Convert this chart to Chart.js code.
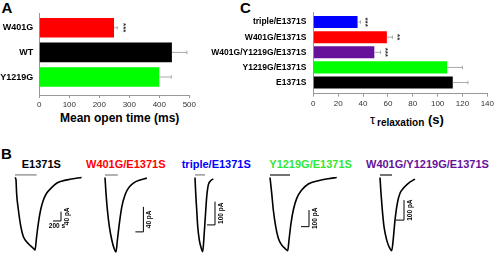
<!DOCTYPE html>
<html>
<head>
<meta charset="utf-8">
<script src="https://cdn.jsdelivr.net/npm/chart.js@4"></script>
<style>
  body { margin: 0; width: 496px; height: 254px; position: relative; overflow: hidden; background: #fff;
         font-family: Arial, "Liberation Sans", sans-serif; }
  canvas { position: absolute; }
  .t { position: absolute; font-weight: bold; line-height: 1; white-space: nowrap; }
</style>
</head>
<body>
<div class="t" style="left:1.5px;top:0;font-size:15px">A</div>
<div class="t" style="left:240px;top:0;font-size:15px">C</div>
<div class="t" style="left:1px;top:146px;font-size:15px">B</div>
<div class="t" style="left:60px;top:111.8px;font-size:12px">Mean open time (ms)</div>
<div class="t" style="left:370px;top:113px;font-size:13px;font-weight:normal">τ</div>
<div class="t" style="left:377px;top:118px;font-size:10px">relaxation</div>
<div class="t" style="left:428px;top:113px;font-size:13px">(s)</div>

<canvas id="chartA" width="200" height="112" style="left:0;top:0"></canvas>
<canvas id="chartC" width="296" height="112" style="left:200px;top:0"></canvas>

<script>
// ---- panel A: mean open time (ms)
const openLabels = ['W401G', 'WT', 'Y1219G'];
const openMean = [249, 442, 400];
const openErr = [11, 50, 40];
const openStars = ['***', '', ''];
const openTicks = [0, 100, 200, 300, 400, 500];

// ---- panel C: tau relaxation (s)
const tauLabels = ['triple/E1371S', 'W401G/E1371S', 'W401G/Y1219G/E1371S', 'Y1219G/E1371S', 'E1371S'];
const tauMean = [35.6, 59.2, 49.1, 107.7, 112.2];
const tauErr = [2.4, 4.5, 5, 12.3, 12.2];
const tauStars = ['***', '**', '***', '', ''];
const tauTicks = [0, 20, 40, 60, 80, 100, 120, 140];

// ---- panel B: current traces (time in s, current in pA)
const traceNames = ['E1371S', 'W401G/E1371S', 'triple/E1371S', 'Y1219G/E1371S', 'W401G/Y1219G/E1371S'];
const traceTime = [
  [0, 25, 40, 85, 145, 210, 335, 460, 500, 540, 585, 640, 710, 790, 915, 1040, 1165, 1375, 1665],
  [0, 25, 60, 110, 170, 225, 275, 310, 360, 420, 500, 585, 710, 875, 1045],
  [0, 18, 43, 68, 108, 150, 193, 225, 258, 293, 333, 393, 458],
  [0, 43, 83, 143, 208, 293, 375, 443, 475, 525, 583, 668, 793, 958, 1208, 1458, 1668],
  [0, 25, 58, 100, 168, 233, 293, 333, 375, 433, 500, 583, 708, 875]
];
const traceCurrent = [
  [0, -10, -68, -140, -210, -255, -285, -305, -312, -255, -195, -140, -97, -68, -44, -25, -16, -8, 0],
  [0, -25, -52, -79, -100, -113, -119, -100, -73, -47, -28, -17, -9, -4, -1],
  [0, -68, -140, -211, -269, -300, -319, -255, -169, -83, -32, -14, -6],
  [0, -95, -195, -295, -365, -405, -425, -439, -375, -275, -195, -125, -75, -39, -19, -7, 0],
  [0, -79, -163, -246, -313, -349, -366, -304, -213, -129, -79, -54, -29, -8]
];
const stimEnd = [540, 320, 250, 500, 300];      // agonist application, s
const scaleBarPA = [40, 40, 100, 100, 100];
const scaleBarS = 200;

// layout / styling
const barColorsA = ['#ff0000', '#000000', '#00ff00'];
const barColorsC = ['#0000ff', '#ff0000', '#66119a', '#00ff00', '#000000'];
const labelColors = ['#000000', '#ff0000', '#0000ff', '#33e633', '#66119a'];
const labelLeft = [21.7, 86, 181.7, 269.3, 366];
const traceLayout = [
  { left: 10,  width: 75, x: [-125, 1750], y: [-329, 32],     stimY: 11,   stimColor: '#999', bar: [1150, -187] },
  { left: 95,  width: 60, x: [-250, 1250], y: [-122.4, 12],   stimY: 4,    stimColor: '#999', bar: [960, -87] },
  { left: 185, width: 50, x: [-250, 1000], y: [-329, 32],     stimY: 11,   stimColor: '#999', bar: [500, -204] },
  { left: 260, width: 85, x: [-250, 1875], y: [-459, 45],     stimY: 15,   stimColor: '#444', bar: [975, -295] },
  { left: 370, width: 60, x: [-250, 1250], y: [-382.5, 37.5], stimY: 12.5, stimColor: '#444', bar: [600, -213] }
];

Chart.defaults.font.family = 'Arial, "Liberation Sans", sans-serif';

// error bars (one-sided, right) and significance stars
function errPlugin(err, stars, gap) {
  return {
    id: 'errBars',
    afterDatasetsDraw(chart) {
      const ctx = chart.ctx, xs = chart.scales.x, ys = chart.scales.y;
      const vals = chart.data.datasets[0].data;
      ctx.save();
      vals.forEach((d, i) => {
        const x0 = xs.getPixelForValue(d.x), x1 = xs.getPixelForValue(d.x + err[i]);
        const y = ys.getPixelForValue(d.y);
        ctx.strokeStyle = '#aaa';
        ctx.lineWidth = 1;
        ctx.beginPath();
        ctx.moveTo(x0, y); ctx.lineTo(x1, y);
        ctx.moveTo(x1, y - 1.7); ctx.lineTo(x1, y + 1.7);
        ctx.stroke();
        if (stars[i]) {
          ctx.save();
          ctx.translate(x1 + gap, y);
          ctx.rotate(Math.PI / 2);
          ctx.fillStyle = '#333';
          ctx.font = 'bold 8px Arial, "Liberation Sans", sans-serif';
          ctx.textAlign = 'center';
          ctx.textBaseline = 'middle';
          ctx.fillText(stars[i], 0, 0);
          ctx.restore();
        }
      });
      ctx.restore();
    }
  };
}

function hbar(id, labels, mean, colors, ticks, xmax, yRange, yWidth, xHeight, padTop, padRight, labelSize, labelPad, err, stars, gap) {
  return new Chart(document.getElementById(id), {
    type: 'bar',
    data: {
      datasets: [{
        data: mean.map((v, i) => ({ x: v, y: i })),
        backgroundColor: colors,
        barPercentage: 0.8,
        categoryPercentage: 1
      }]
    },
    options: {
      indexAxis: 'y',
      responsive: false,
      animation: false,
      events: [],
      layout: { padding: { top: padTop, right: padRight, left: 0, bottom: 0 } },
      plugins: { legend: { display: false }, tooltip: { enabled: false } },
      scales: {
        x: {
          type: 'linear', min: 0, max: xmax,
          afterBuildTicks: s => { s.ticks = ticks.map(v => ({ value: v })); },
          afterFit: s => { s.height = xHeight; },
          grid: { drawOnChartArea: false, tickLength: 3, color: '#999' },
          border: { color: '#999' },
          ticks: { font: { size: 8 }, color: '#333', padding: 2, maxRotation: 0 }
        },
        y: {
          type: 'linear', reverse: true, min: yRange[0], max: yRange[1], offset: false,
          afterBuildTicks: s => { s.ticks = labels.map((l, i) => ({ value: i })); },
          afterFit: s => { s.width = yWidth; },
          grid: { display: false, drawTicks: false, offset: false },
          border: { color: '#999' },
          ticks: { callback: v => labels[v], font: { size: labelSize, weight: 'bold' }, color: '#000', padding: labelPad }
        }
      }
    },
    plugins: [errPlugin(err, stars, gap)]
  });
}

hbar('chartA', openLabels, openMean, barColorsA, openTicks, 500, [-0.6, 2.73], 39.3, 17, 13, 10.7, 9, 6,
     openErr, openStars, 6.4);
hbar('chartC', tauLabels, tauMean, barColorsC, tauTicks, 140, [-0.66, 4.74], 113.3, 18.3, 8.3, 6.7, 8.5, 7,
     tauErr, tauStars, 4.5);

// scale bar labels for the traces
function scaleLabelPlugin(pa, showTime) {
  return {
    id: 'scaleLabels',
    afterDatasetsDraw(chart) {
      const ctx = chart.ctx, xs = chart.scales.x, ys = chart.scales.y;
      const bar = chart.data.datasets[2].data;
      const corner = bar[1];
      ctx.save();
      ctx.fillStyle = '#000';
      ctx.font = 'bold 6.5px Arial, "Liberation Sans", sans-serif';
      ctx.textAlign = 'center';
      ctx.textBaseline = 'middle';
      ctx.save();
      ctx.translate(xs.getPixelForValue(corner.x) + 6, ys.getPixelForValue(corner.y + pa / 2));
      ctx.rotate(-Math.PI / 2);
      ctx.fillText(pa + ' pA', 0, 0);
      ctx.restore();
      if (showTime) {
        ctx.fillText(scaleBarS + ' s', xs.getPixelForValue(corner.x - scaleBarS / 2), ys.getPixelForValue(corner.y) + 5.5);
      }
      ctx.restore();
    }
  };
}

traceNames.forEach((name, k) => {
  const L = traceLayout[k];
  const lbl = document.createElement('div');
  lbl.className = 't';
  lbl.style.cssText = `left:${labelLeft[k]}px;top:158.6px;font-size:11px;color:${labelColors[k]}`;
  lbl.textContent = name;
  document.body.appendChild(lbl);

  const cv = document.createElement('canvas');
  cv.width = L.width; cv.height = 84;
  cv.style.left = L.left + 'px'; cv.style.top = '170px';
  document.body.appendChild(cv);

  const pts = traceTime[k].map((t, i) => ({ x: t, y: traceCurrent[k][i] }));
  new Chart(cv, {
    type: 'line',
    data: {
      datasets: [
        { data: pts, borderColor: '#000', borderWidth: 1.6, pointRadius: 0, cubicInterpolationMode: 'monotone' },
        { data: [{ x: 0, y: L.stimY }, { x: stimEnd[k], y: L.stimY }], borderColor: L.stimColor, borderWidth: 1.5, pointRadius: 0 },
        { data: [{ x: L.bar[0] - scaleBarS, y: L.bar[1] }, { x: L.bar[0], y: L.bar[1] }, { x: L.bar[0], y: L.bar[1] + scaleBarPA[k] }],
          borderColor: '#000', borderWidth: 1, pointRadius: 0 }
      ]
    },
    options: {
      responsive: false,
      animation: false,
      events: [],
      layout: { padding: 0 },
      plugins: { legend: { display: false }, tooltip: { enabled: false } },
      scales: {
        x: { type: 'linear', display: false, min: L.x[0], max: L.x[1] },
        y: { type: 'linear', display: false, min: L.y[0], max: L.y[1] }
      }
    },
    plugins: [scaleLabelPlugin(scaleBarPA[k], k === 0)]
  });
});
</script>
</body>
</html>
